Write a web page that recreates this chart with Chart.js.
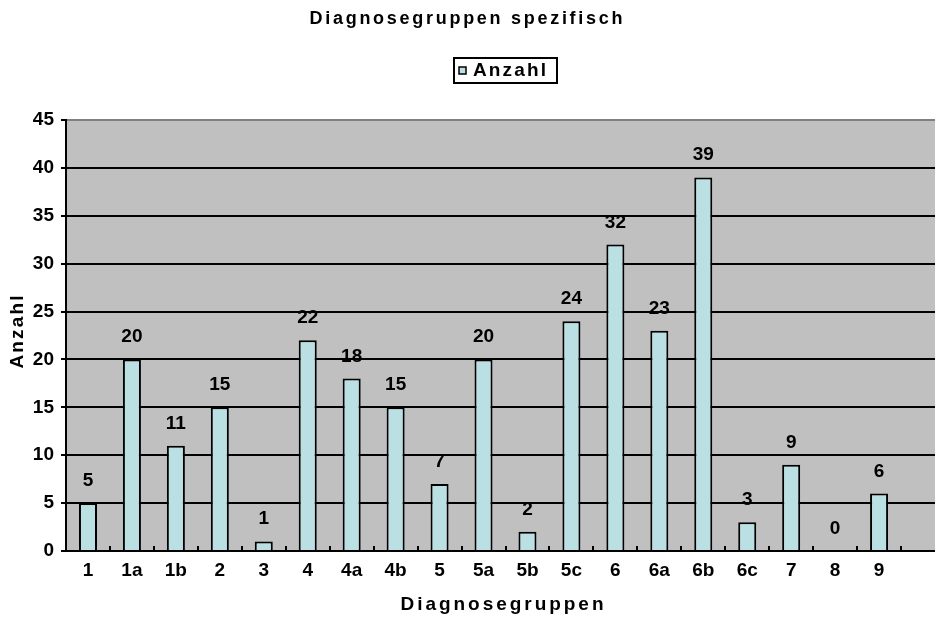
<!DOCTYPE html>
<html>
<head>
<meta charset="utf-8">
<script src="https://cdn.jsdelivr.net/npm/chart.js@4"></script>
<style>
  html, body { margin: 0; padding: 0; background: #fff; overflow: hidden; }
  #wrap { width: 945px; height: 617px; }
</style>
</head>
<body>
<div id="wrap"><canvas id="chart" width="945" height="617"></canvas></div>
<script>
// data (last slot is an empty category, cut by the frame)
const categories = ['1', '1a', '1b', '2', '3', '4', '4a', '4b', '5', '5a', '5b', '5c', '6', '6a', '6b', '6c', '7', '8', '9', ''];
const anzahl = [5, 20, 11, 15, 1, 22, 18, 15, 7, 20, 2, 24, 32, 23, 39, 3, 9, 0, 6, null];
const yTicks = [0, 5, 10, 15, 20, 25, 30, 35, 40, 45];

const chartTitle = 'Diagnosegruppen spezifisch';
const xTitle = 'Diagnosegruppen';
const yTitle = 'Anzahl';
const seriesName = 'Anzahl';

const FONT = 'Arial, "Liberation Sans", sans-serif';
const BAR_COLOR = '#BBE0E3';

// draws text stretched to a given width by spreading the letters
function spacedText(ctx, text, cx, cy, width) {
    ctx.save();
    const plain = ctx.measureText(text).width;
    const sp = (width - plain) / (text.length - 1);
    let x = cx - width / 2;
    ctx.textAlign = 'left';
    for (const ch of text) {
        ctx.fillText(ch, x, cy);
        x += ctx.measureText(ch).width + sp;
    }
    ctx.restore();
}

const decor = {
    id: 'decor',
    beforeDraw(chart) {
        const { ctx, chartArea: a } = chart;
        ctx.save();
        ctx.fillStyle = '#C0C0C0';
        ctx.fillRect(a.left, a.top, a.right - a.left, a.bottom - a.top);
        ctx.restore();
    },
    afterDraw(chart) {
        const { ctx, chartArea: a } = chart;
        const x = chart.scales.x;
        ctx.save();
        ctx.fillStyle = '#000';
        ctx.textBaseline = 'middle';

        // title
        ctx.font = 'bold 18px ' + FONT;
        spacedText(ctx, chartTitle, 466, 19, 313);

        // x axis title
        ctx.font = 'bold 19px ' + FONT;
        spacedText(ctx, xTitle, 502, 605, 203);

        // y axis title
        ctx.save();
        ctx.translate(18, 332);
        ctx.rotate(-Math.PI / 2);
        spacedText(ctx, yTitle, 0, 0, 73);
        ctx.restore();

        // legend
        ctx.lineWidth = 2;
        ctx.strokeStyle = '#000';
        ctx.fillStyle = '#fff';
        ctx.fillRect(454, 58, 103, 25);
        ctx.strokeRect(454, 58, 103, 25);
        ctx.fillStyle = BAR_COLOR;
        ctx.lineWidth = 1.5;
        ctx.fillRect(459, 67, 7, 7);
        ctx.strokeRect(459, 67, 7, 7);
        ctx.fillStyle = '#000';
        ctx.font = 'bold 19px ' + FONT;
        spacedText(ctx, seriesName, 509.5, 71, 73);

        // small inward tick marks between categories
        ctx.lineWidth = 2;
        const slot = x.getPixelForValue(1) - x.getPixelForValue(0);
        for (let i = 0; i < categories.length; i++) {
            const px = Math.round(x.getPixelForValue(i) + slot / 2);
            ctx.beginPath();
            ctx.moveTo(px, a.bottom);
            ctx.lineTo(px, a.bottom - 5);
            ctx.stroke();
        }

        // value labels
        const meta = chart.getDatasetMeta(0);
        ctx.font = 'bold 19px ' + FONT;
        ctx.textAlign = 'center';
        ctx.textBaseline = 'alphabetic';
        meta.data.forEach((bar, i) => {
            const v = anzahl[i];
            if (v === null || v === undefined) return;
            ctx.fillText(String(v), bar.x, bar.y - 17);
        });
        ctx.restore();
    }
};

new Chart(document.getElementById('chart'), {
    type: 'bar',
    data: {
        labels: categories,
        datasets: [{
            label: seriesName,
            data: anzahl,
            backgroundColor: BAR_COLOR,
            borderColor: '#000',
            borderWidth: (c) => (anzahl[c.dataIndex] ? 2 : 0),
            borderSkipped: 'bottom',
            barPercentage: 0.41,
            categoryPercentage: 1.0
        }]
    },
    options: {
        responsive: false,
        animation: false,
        layout: { padding: { top: 120, left: 0, right: 0, bottom: 0 } },
        plugins: {
            legend: { display: false },
            title: { display: false },
            tooltip: { enabled: false }
        },
        scales: {
            x: {
                offset: true,
                grid: { display: false },
                border: { display: true, color: '#000', width: 2 },
                ticks: {
                    color: '#000',
                    font: { family: FONT, size: 19, weight: 'bold' },
                    padding: 0,
                    maxRotation: 0,
                    autoSkip: false
                },
                afterFit(scale) { scale.height = 66; }
            },
            y: {
                min: 0,
                max: 45,
                afterBuildTicks(scale) { scale.ticks = yTicks.map(v => ({ value: v })); },
                grid: {
                    color: (c) => (c.tick && c.tick.value === 45 ? '#808080' : '#000'),
                    lineWidth: 2,
                    tickLength: 5,
                    tickColor: '#000'
                },
                border: { display: true, color: '#000', width: 2 },
                ticks: {
                    color: '#000',
                    font: { family: FONT, size: 19, weight: 'bold' },
                    padding: 7
                },
                afterFit(scale) { scale.width = 66; }
            }
        }
    },
    plugins: [decor]
});
</script>
</body>
</html>
